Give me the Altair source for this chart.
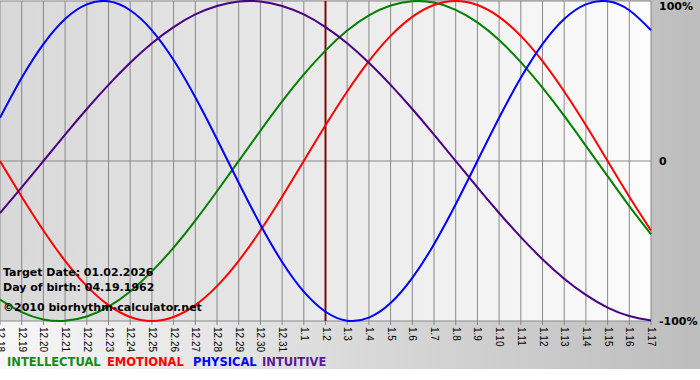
import altair as alt
import pandas as pd

# ---------------- data ----------------
day_labels = ["12.18", "12.19", "12.20", "12.21", "12.22", "12.23", "12.24", "12.25",
              "12.26", "12.27", "12.28", "12.29", "12.30", "12.31", "1.1", "1.2",
              "1.3", "1.4", "1.5", "1.6", "1.7", "1.8", "1.9", "1.10", "1.11",
              "1.12", "1.13", "1.14", "1.15", "1.16", "1.17"]

intellectual = [-0.866, -0.945, -0.990, -0.999, -0.972, -0.910, -0.815, -0.690, -0.541,
                -0.372, -0.189, 0.000, 0.189, 0.372, 0.541, 0.690, 0.815, 0.910, 0.972,
                0.999, 0.990, 0.945, 0.866, 0.756, 0.618, 0.458, 0.282, 0.095, -0.095,
                -0.282, -0.458]
emotional = [0.000, -0.223, -0.434, -0.624, -0.782, -0.901, -0.975, -1.000, -0.975,
             -0.901, -0.782, -0.624, -0.434, -0.223, 0.000, 0.223, 0.434, 0.624, 0.782,
             0.901, 0.975, 1.000, 0.975, 0.901, 0.782, 0.624, 0.434, 0.223, 0.000,
             -0.223, -0.434]
physical = [0.270, 0.520, 0.731, 0.888, 0.979, 0.998, 0.942, 0.817, 0.631, 0.398,
            0.136, -0.136, -0.398, -0.631, -0.817, -0.942, -0.998, -0.979, -0.888,
            -0.731, -0.520, -0.270, 0.000, 0.270, 0.520, 0.731, 0.888, 0.979, 0.998,
            0.942, 0.817]
intuitive = [-0.325, -0.165, 0.000, 0.165, 0.325, 0.476, 0.614, 0.736, 0.837, 0.916,
             0.969, 0.997, 0.997, 0.969, 0.916, 0.837, 0.736, 0.614, 0.476, 0.325,
             0.165, 0.000, -0.165, -0.325, -0.476, -0.614, -0.736, -0.837, -0.916,
             -0.969, -0.997]

series_names = ["INTELLECTUAL", "EMOTIONAL", "PHYSICAL", "INTUITIVE"]
series_values = [intellectual, emotional, physical, intuitive]
target_label = "1.2"
info_lines = ["Target Date: 01.02.2026", "Day of birth: 04.19.1962",
              "\u00a92010 biorhythm-calculator.net"]
y_ticks = [1, 0, -1]
y_tick_labels = ["100%", "0", "-100%"]

# ---------------- styles ----------------
series_colors = ["#008000", "#ff0000", "#0000ff", "#4b0082"]
legend_colors = ["#1a8a1a", "#ff0000", "#0000ff", "#5a1a9a"]
legend_x = [7, 107, 193, 262]
info_y = [275, 290, 310]
FONT = "DejaVu Sans"

rows = []
for name, vals in zip(series_names, series_values):
    for i, v in enumerate(vals):
        rows.append({"day": i, "value": v, "series": name})
df = pd.DataFrame(rows)
days_df = pd.DataFrame({"day": list(range(len(day_labels))), "label": day_labels})
hgrid_df = pd.DataFrame({"y": y_ticks, "label": y_tick_labels})
target_df = pd.DataFrame({"day": [day_labels.index(target_label)]})
one = pd.DataFrame({"a": [0]})

xscale = alt.Scale(domain=[0, len(day_labels) - 1], nice=False, zero=False)
yscale = alt.Scale(domain=[-1, 1], nice=False, zero=False)

outer_bg = alt.Chart(one).mark_rect(
    color=alt.Gradient(gradient="linear",
                       stops=[alt.GradientStop(color="#f7f7f7", offset=0),
                              alt.GradientStop(color="#bdbdbd", offset=1)],
                       x1=0, x2=1, y1=0, y2=0)
).encode(x=alt.value(0), x2=alt.value(700), y=alt.value(-1), y2=alt.value(368))

plot_bg = alt.Chart(one).mark_rect(
    color=alt.Gradient(gradient="linear",
                       stops=[alt.GradientStop(color="#d8d8d8", offset=0),
                              alt.GradientStop(color="#fcfcfc", offset=1)],
                       x1=0, x2=1, y1=0, y2=0)
).encode(x=alt.value(0), x2=alt.value(651), y=alt.value(0), y2=alt.value(320))

vgrid = alt.Chart(days_df).mark_rule(color="#888888", strokeWidth=1).encode(
    x=alt.X("day:Q", scale=xscale, axis=None)
)

# tick marks below plot
ticks = alt.Chart(days_df).mark_rule(color="#888888", strokeWidth=1).encode(
    x=alt.X("day:Q", scale=xscale, axis=None),
    y=alt.value(320), y2=alt.value(324),
)

# rotated day labels
xlabels = alt.Chart(days_df).mark_text(
    angle=90, align="left", baseline="middle", font="Liberation Sans",
    fontSize=10, color="#000000"
).encode(
    x=alt.X("day:Q", scale=xscale, axis=None),
    y=alt.value(326),
    text="label:N",
)

hgrid = alt.Chart(hgrid_df).mark_rule(color="#888888", strokeWidth=1).encode(
    y=alt.Y("y:Q", scale=yscale, axis=None)
)

target = alt.Chart(target_df).mark_rule(color="#7a0a0a", strokeWidth=2).encode(
    x=alt.X("day:Q", scale=xscale, axis=None)
)

lines = alt.Chart(df).mark_line(strokeWidth=2, interpolate="natural").encode(
    x=alt.X("day:Q", scale=xscale, axis=None),
    y=alt.Y("value:Q", scale=yscale, axis=None),
    color=alt.Color("series:N", scale=alt.Scale(domain=series_names, range=series_colors),
                    legend=None),
    detail="series:N",
)

ylab_top = alt.Chart(hgrid_df[hgrid_df["y"] == 1]).mark_text(
    align="left", baseline="middle", dy=6, font=FONT, fontWeight="bold",
    fontSize=11, color="#000000"
).encode(x=alt.value(659), y=alt.Y("y:Q", scale=yscale, axis=None), text="label:N")

ylab_rest = alt.Chart(hgrid_df[hgrid_df["y"] != 1]).mark_text(
    align="left", baseline="middle", dy=1, font=FONT, fontWeight="bold",
    fontSize=11, color="#000000"
).encode(x=alt.value(659), y=alt.Y("y:Q", scale=yscale, axis=None), text="label:N")

layers = [outer_bg, plot_bg, vgrid, ticks, xlabels, hgrid, target, lines,
          ylab_top, ylab_rest]

for txt, yy in zip(info_lines, info_y):
    layers.append(
        alt.Chart(one).mark_text(align="left", baseline="alphabetic", font=FONT,
                                 fontWeight="bold", fontSize=11, color="#000000",
                                 text=txt)
        .encode(x=alt.value(3), y=alt.value(yy))
    )

for name, col, xx in zip(series_names, legend_colors, legend_x):
    layers.append(
        alt.Chart(one).mark_text(align="left", baseline="alphabetic", font=FONT,
                                 fontWeight="bold", fontSize=11.5, color=col, text=name)
        .encode(x=alt.value(xx), y=alt.value(365))
    )

chart = alt.layer(*layers).properties(
    width=651, height=320,
    padding={"left": 0, "top": 1, "right": 49, "bottom": 59},
    autosize=alt.AutoSizeParams(type="none"),
    background="white",
).configure_view(stroke=None)

chart.save("out.html", embed_options={"renderer": "svg", "actions": False})
